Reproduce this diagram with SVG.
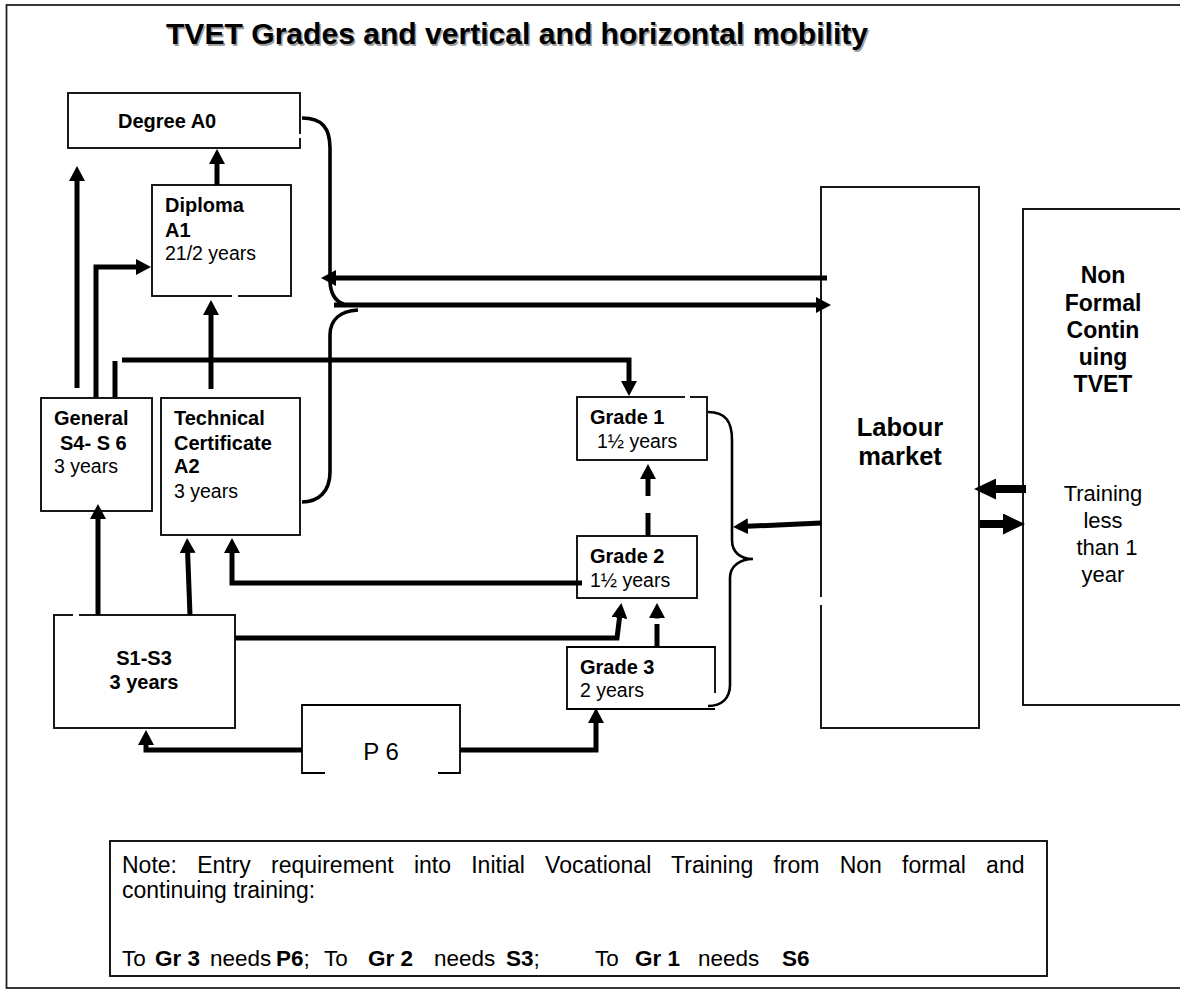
<svg xmlns="http://www.w3.org/2000/svg" width="1180" height="990" viewBox="0 0 1180 990">
<style>
.box{fill:#fff;stroke:#000;stroke-width:1.8}
.edge{fill:none;stroke:#000;stroke-width:1.8}
.ln{fill:none;stroke:#000;stroke-width:5;stroke-linejoin:miter}
.ln8{fill:none;stroke:#000;stroke-width:8}
.cv{fill:none;stroke:#000;stroke-width:3.6}
.br{fill:none;stroke:#000;stroke-width:2.6}
.gap{fill:#fff;stroke:none}
text{font-family:'Liberation Sans',Arial,sans-serif;fill:#000}
.b{font-weight:bold;font-size:20px}
.r{font-size:19.5px}
.nt{font-size:23px}
</style>
<defs>
<marker id="ah" markerUnits="userSpaceOnUse" viewBox="0 0 16 16" markerWidth="16" markerHeight="16" refX="1" refY="8" orient="auto"><path d="M0,0 L15,8 L0,16 z" fill="#000"/></marker>
<marker id="ahb" markerUnits="userSpaceOnUse" viewBox="0 0 23 21" markerWidth="23" markerHeight="21" refX="1" refY="10.5" orient="auto"><path d="M0,0 L22,10.5 L0,21 z" fill="#000"/></marker>
</defs>
<rect width="1180" height="990" fill="#fff"/>
<rect x="6.5" y="5" width="1180" height="983" fill="none" stroke="#222" stroke-width="1.8"/>
<g id="title">
<text x="167.5" y="45.5" font-size="29" font-weight="bold" textLength="702" lengthAdjust="spacingAndGlyphs" style="fill:#a0a0a0">TVET Grades and vertical and horizontal mobility</text>
<text x="166" y="44" font-size="29" font-weight="bold" textLength="702" lengthAdjust="spacingAndGlyphs">TVET Grades and vertical and horizontal mobility</text>
</g>
<g id="degree">
<rect class="box" x="68" y="93" width="232" height="55"/>
<rect class="gap" x="298" y="134" width="4" height="4"/>
<text class="b" x="118" y="128">Degree A0</text>
</g>
<g id="diploma">
<rect class="box" x="152" y="185" width="139" height="111"/>
<rect class="gap" x="232" y="294" width="6" height="4"/>
<text class="b" x="165" y="212">Diploma</text>
<text class="b" x="165" y="237">A1</text>
<text class="r" x="165" y="260">21/2 years</text>
</g>
<g id="general">
<rect class="box" x="41" y="398" width="111" height="113"/>
<text class="b" x="54" y="425">General</text>
<text class="b" x="60" y="450">S4- S 6</text>
<text class="r" x="54" y="473">3 years</text>
</g>
<g id="technical">
<rect class="box" x="161" y="398" width="139" height="137"/>
<text class="b" x="174" y="425">Technical</text>
<text class="b" x="174" y="450">Certificate</text>
<text class="b" x="174" y="473">A2</text>
<text class="r" x="174" y="498">3 years</text>
</g>
<g id="s1s3">
<rect class="box" x="54" y="615" width="181" height="113"/>
<rect class="gap" x="73" y="613" width="6" height="4"/>
<text class="b" x="144" y="665" text-anchor="middle">S1-S3</text>
<text class="b" x="144" y="689" text-anchor="middle">3 years</text>
</g>
<g id="p6">
<rect x="302" y="705" width="158" height="68" fill="#fff"/>
<path class="edge" d="M325,773 H302 V705 H460 V773 H438"/>
<text x="381" y="760" font-size="24" text-anchor="middle">P 6</text>
</g>
<g id="grade1">
<rect class="box" x="577" y="397" width="130" height="63"/>
<rect class="gap" x="685" y="395" width="5" height="4"/>
<text class="b" x="590" y="424">Grade 1</text>
<text class="r" x="597" y="448">1½ years</text>
</g>
<g id="grade2">
<rect class="box" x="577" y="536" width="120" height="62"/>
<text class="b" x="590" y="563">Grade 2</text>
<text class="r" x="590" y="587">1½ years</text>
</g>
<g id="grade3">
<rect x="567" y="647" width="148" height="62" fill="#fff"/>
<path class="edge" d="M715,693 V647 H567 V709 H715"/>
<text class="b" x="580" y="674">Grade 3</text>
<text class="r" x="580" y="697">2 years</text>
</g>
<g id="labour">
<rect class="box" x="821" y="187" width="158" height="541"/>
<rect class="gap" x="818" y="597" width="6" height="8"/>
<text x="900" y="436" font-size="25.5" font-weight="bold" text-anchor="middle">Labour</text>
<text x="900" y="465" font-size="25.5" font-weight="bold" text-anchor="middle">market</text>
</g>
<g id="nonformal">
<rect class="box" x="1023" y="209" width="170" height="496"/>
<g font-size="23" font-weight="bold" text-anchor="middle">
<text x="1103" y="283">Non</text>
<text x="1103" y="311">Formal</text>
<text x="1103" y="338">Contin</text>
<text x="1103" y="365">uing</text>
<text x="1103" y="392">TVET</text>
</g>
<g font-size="22" text-anchor="middle">
<text x="1103" y="501">Training</text>
<text x="1103" y="528">less</text>
<text x="1107" y="555">than 1</text>
<text x="1103" y="582">year</text>
</g>
</g>
<g id="note">
<rect class="box" x="110" y="841" width="937" height="135"/>
<text class="nt" x="122" y="873" word-spacing="13.8">Note: Entry requirement into Initial Vocational Training from Non formal and</text>
<text class="nt" x="122" y="898">continuing training:</text>
<text y="966" font-size="22.5"><tspan x="122">To</tspan><tspan x="155" font-weight="bold">Gr 3</tspan><tspan x="210">needs</tspan><tspan x="276" font-weight="bold">P6</tspan><tspan>;</tspan><tspan x="324">To</tspan><tspan x="368" font-weight="bold">Gr 2</tspan><tspan x="434">needs</tspan><tspan x="506" font-weight="bold">S3</tspan><tspan>;</tspan><tspan x="595">To</tspan><tspan x="635" font-weight="bold">Gr 1</tspan><tspan x="698">needs</tspan><tspan x="782" font-weight="bold">S6</tspan></text>
</g>
<g id="connectors">
<path class="ln" d="M217,185 V163" marker-end="url(#ah)"/>
<path class="ln" d="M77,388 V180" marker-end="url(#ah)"/>
<path class="ln" d="M96,397 V267 H137" marker-end="url(#ah)"/>
<path class="ln" d="M115,397 V361"/>
<path class="ln" d="M122,360 H629 V382" marker-end="url(#ah)"/>
<path class="ln" d="M211,389 V314" marker-end="url(#ah)"/>
<path class="ln" d="M98,615 V518" marker-end="url(#ah)"/>
<path class="ln" d="M190,615 L187.6,552" marker-end="url(#ah)"/>
<path class="ln" d="M582,583 H232 V552" marker-end="url(#ah)"/>
<path class="ln" d="M235,638 H617 L619.6,617" marker-end="url(#ah)"/>
<path class="ln" d="M648,536 V513"/>
<path class="ln" d="M648,496 V478" marker-end="url(#ah)"/>
<path class="ln" d="M657,646 V624"/>
<path class="ln" d="M657,618.5 V617" marker-end="url(#ah)"/>
<path class="ln" d="M302,750 H146 V744" marker-end="url(#ah)"/>
<path class="ln" d="M460,750 H596 V722" marker-end="url(#ah)"/>
<path class="ln" d="M827,278 H335" marker-end="url(#ah)"/>
<path class="ln" d="M334,305 H817" marker-end="url(#ah)"/>
<path class="ln" d="M821,523 L747,526.3" marker-end="url(#ah)"/>
<path class="ln8" d="M1026,489 H995" marker-end="url(#ahb)"/>
<path class="ln8" d="M980,524 H1004" marker-end="url(#ahb)"/>
<path class="cv" d="M302,118 C322,118 330,128 330,148 L330,280 C330,292 335,302 344,304"/>
<path class="cv" d="M302,502 C318,502 330,492 330,472 L330,335 C330,320 340,311 358,310"/>
<path class="br" d="M708,412 C726,412 732,422 732,440 L732,540 C732,552 740,559 753,559 C740,559 730,566 730,578 L730,685 C730,698 722,706 708,706"/>
</g>
</svg>
